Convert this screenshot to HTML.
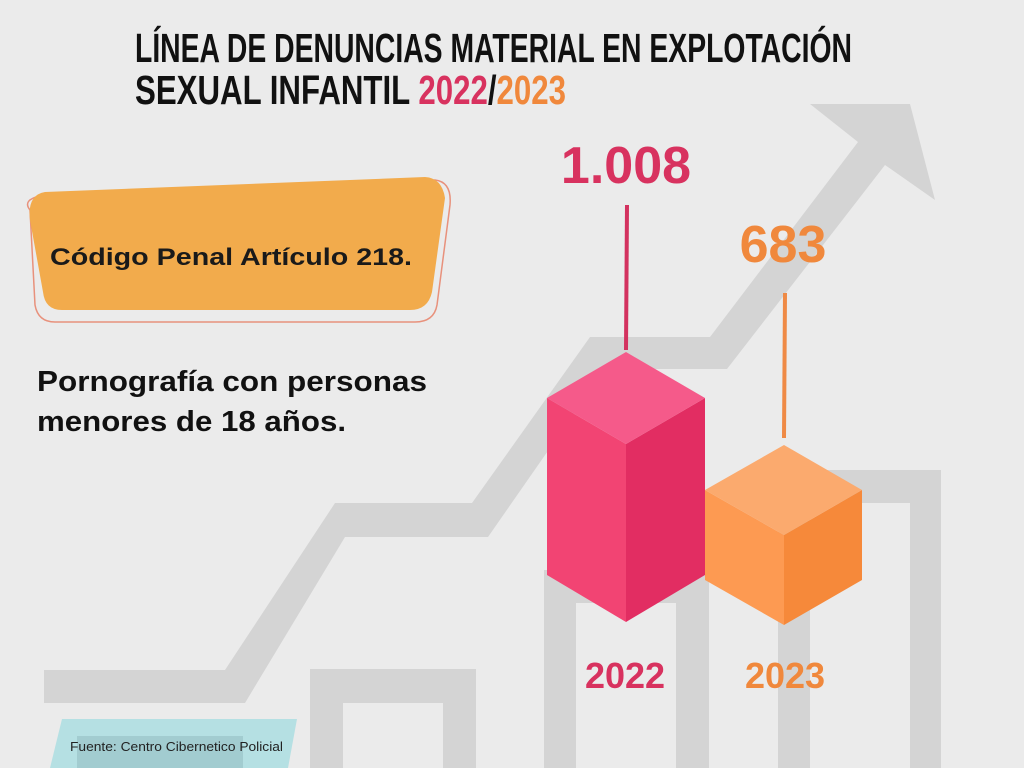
<!DOCTYPE html>
<html><head><meta charset="utf-8"><style>
html,body{margin:0;padding:0;background:#ebebeb;}
svg{display:block;}
</style></head><body>
<svg width="1024" height="768" viewBox="0 0 1024 768" xmlns="http://www.w3.org/2000/svg">
<rect width="1024" height="768" fill="#ebebeb"/>
<path d="M310,768 V669 H476 V768 H443 V703 H343 V768 Z" fill="#d4d4d4"/>
<path d="M544,768 V570 H709 V768 H676 V603 H576 V768 Z" fill="#d4d4d4"/>
<path d="M778,768 V470 H941 V768 H910 V503 H810 V768 Z" fill="#d4d4d4"/>
<polygon fill="#d4d4d4" points="44,670 225,670 335,503 472,503 590,337 710,337 858,142 810,104 910,104 935,200 885,165 727,369 605,369 488,537 345,537 245,703 44,703"/>
<text x="135" y="62" textLength="717" lengthAdjust="spacingAndGlyphs" font-family="'Liberation Sans Narrow','Liberation Sans',sans-serif" font-weight="bold" font-size="41" fill="#111">LÍNEA DE DENUNCIAS MATERIAL EN EXPLOTACIÓN</text>
<text x="135" y="104" textLength="431" lengthAdjust="spacingAndGlyphs" font-family="'Liberation Sans Narrow','Liberation Sans',sans-serif" font-weight="bold" font-size="41" fill="#111">SEXUAL INFANTIL <tspan fill="#d8325f">2022</tspan>/<tspan fill="#f0883c">2023</tspan></text>
<path d="M30,210 Q22,200 40,196 L435,180 Q452,182 450,205 L437,305 Q434,322 415,322 L55,322 Q38,322 35,305 Z" fill="none" stroke="#e8917c" stroke-width="1.5"/>
<path d="M45,192 L425,177 Q442,178 445,198 L432,292 Q428,310 410,310 L62,310 Q45,310 43,292 L30,220 Q27,195 45,192 Z" fill="#f2ab4c"/>
<text x="50" y="265" textLength="362" lengthAdjust="spacingAndGlyphs" font-family="'Liberation Sans',sans-serif" font-weight="bold" font-size="24" fill="#1a1a1a">Código Penal Artículo 218.</text>
<text x="37" y="391" textLength="390" lengthAdjust="spacingAndGlyphs" font-family="'Liberation Sans',sans-serif" font-weight="bold" font-size="29" fill="#111">Pornografía con personas</text>
<text x="37" y="431" textLength="309" lengthAdjust="spacingAndGlyphs" font-family="'Liberation Sans',sans-serif" font-weight="bold" font-size="29" fill="#111">menores de 18 años.</text>
<line x1="627" y1="205" x2="626" y2="350" stroke="#d3325f" stroke-width="4"/>
<line x1="785" y1="293" x2="784" y2="438" stroke="#ef8a45" stroke-width="4"/>
<polygon points="547,398 626,444 626,622 547,575" fill="#f24473"/>
<polygon points="705,398 626,444 626,622 705,575" fill="#e22d62"/>
<polygon points="626,352 705,398 626,444 547,398" fill="#f55a8a"/>
<polygon points="705,490 784,535 784,625 705,580" fill="#fd9a52"/>
<polygon points="862,490 784,535 784,625 862,580" fill="#f6893a"/>
<polygon points="784,445 862,490 784,535 705,490" fill="#fbaa6e"/>
<text x="626" y="183" text-anchor="middle" font-family="'Liberation Sans',sans-serif" font-weight="bold" font-size="52" fill="#d8325f">1.008</text>
<text x="783" y="262" text-anchor="middle" font-family="'Liberation Sans',sans-serif" font-weight="bold" font-size="52" fill="#f0883c">683</text>
<text x="625" y="688" text-anchor="middle" font-family="'Liberation Sans',sans-serif" font-weight="bold" font-size="36" fill="#d8325f">2022</text>
<text x="785" y="688" text-anchor="middle" font-family="'Liberation Sans',sans-serif" font-weight="bold" font-size="36" fill="#f0883c">2023</text>
<polygon points="62,719 297,719 288,768 50,768" fill="#b5e0e3"/>
<rect x="77" y="736" width="166" height="32" fill="#a2ccd0"/>
<text x="70" y="751" textLength="213" lengthAdjust="spacingAndGlyphs" font-family="'Liberation Sans Narrow','Liberation Sans',sans-serif" font-size="13" fill="#222">Fuente: Centro Cibernetico Policial</text>
</svg>
</body></html>
